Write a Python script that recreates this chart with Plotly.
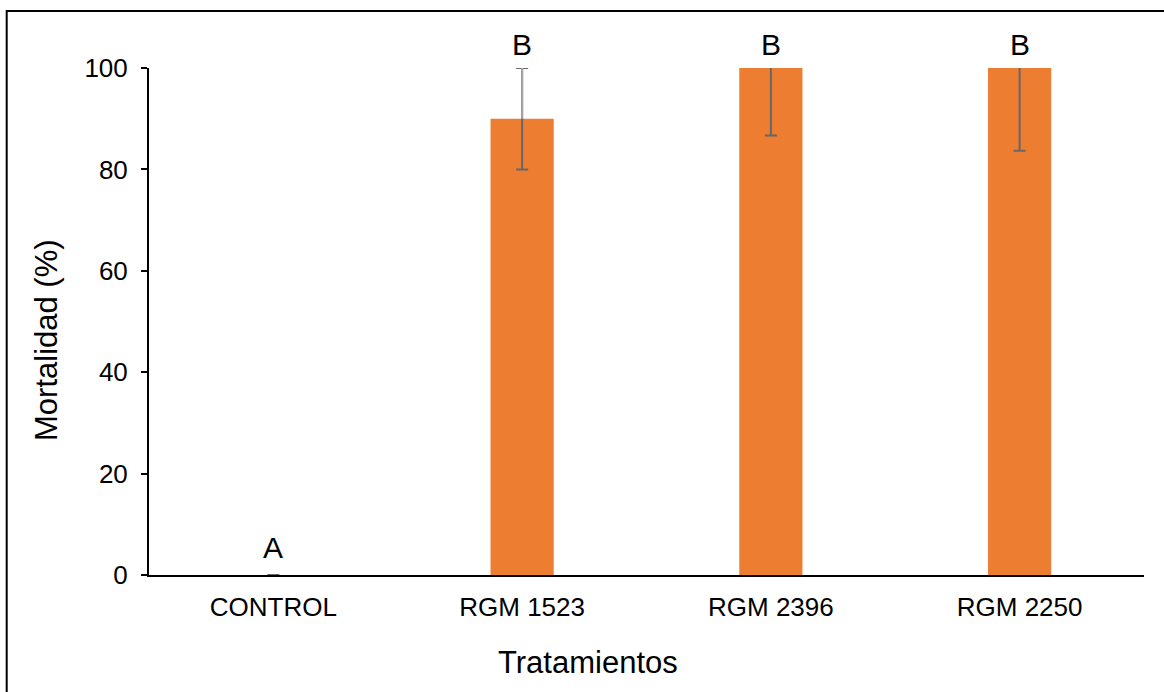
import plotly.graph_objects as go

categories = ["CONTROL", "RGM 1523", "RGM 2396", "RGM 2250"]
mortality = [0, 90, 100, 100]
err_plus = [0, 10, 13.3, 16.3]
err_minus = [0, 10, 13.3, 16.3]
letters = ["A", "B", "B", "B"]
y_ticks = [0, 20, 40, 60, 80, 100]
y_max = 100

FONT = "Liberation Sans, Arial, sans-serif"
ORANGE = "#ED7D31"

fig = go.Figure()
fig.add_trace(go.Bar(
    x=categories, y=mortality, marker_color=ORANGE, marker_line_width=0,
    error_y=dict(type="data", symmetric=False, array=err_plus, arrayminus=err_minus,
                 color="#676767", thickness=2, width=6),
    showlegend=False, hoverinfo="skip",
))

# light upper part of the error bars that stands above the bar
sel = [i for i in range(len(categories)) if err_plus[i] > 0 and mortality[i] + err_plus[i] <= y_max]
fig.add_trace(go.Scatter(
    x=[categories[i] for i in sel], y=[mortality[i] for i in sel], mode="markers",
    marker=dict(size=1, opacity=0),
    error_y=dict(type="data", symmetric=False, array=[err_plus[i] for i in sel],
                 arrayminus=[0 for _ in sel], color="#A5A5A5", thickness=2, width=0),
    showlegend=False, hoverinfo="skip",
))

for c, v, e, t in zip(categories, mortality, err_plus, letters):
    top = min(v + e, y_max)
    fig.add_annotation(x=c, y=top, text=t, showarrow=False, yanchor="bottom",
                       yshift=5 if top > 0 else 9,
                       font=dict(family=FONT, size=30, color="#000"))

fig.add_annotation(xref="paper", yref="paper", x=(46 - 149) / 995, y=(575 - 340) / 507,
                   xanchor="center", yanchor="middle",
                   text="Mortalidad (%)", textangle=-90, showarrow=False,
                   font=dict(family=FONT, size=31, color="#000"))
fig.add_annotation(xref="paper", yref="paper", x=(588 - 149) / 995, y=(575 - 662) / 507,
                   xanchor="center", yanchor="middle",
                   text="Tratamientos", showarrow=False,
                   font=dict(family=FONT, size=31, color="#000"))

fig.add_shape(type="rect", xref="paper", yref="paper",
              x0=(6.7 - 149) / 995, x1=(1190 - 149) / 995,
              y0=(575 - 720) / 507, y1=(575 - 11) / 507,
              line=dict(color="#000", width=2), fillcolor="rgba(0,0,0,0)", layer="below")

fig.update_layout(
    width=1164, height=692,
    margin=dict(l=149, r=20, t=68, b=117),
    paper_bgcolor="white", plot_bgcolor="white",
    bargap=0.746,
    font=dict(family=FONT, size=26, color="#000"),
)
fig.update_xaxes(showline=True, linecolor="#000", linewidth=2, ticks="",
                 tickfont=dict(size=26), showgrid=False, ticklabelstandoff=8)
fig.update_yaxes(range=[0, y_max], tickvals=y_ticks, showline=True, linecolor="#000",
                 linewidth=2, ticks="outside", ticklen=6, tickwidth=2, tickcolor="#000",
                 tickfont=dict(size=26), showgrid=False, zeroline=False,
                 ticklabelstandoff=8)

fig.write_html("out.html", config={"displayModeBar": False},
               post_script="document.body.style.margin='0';")
